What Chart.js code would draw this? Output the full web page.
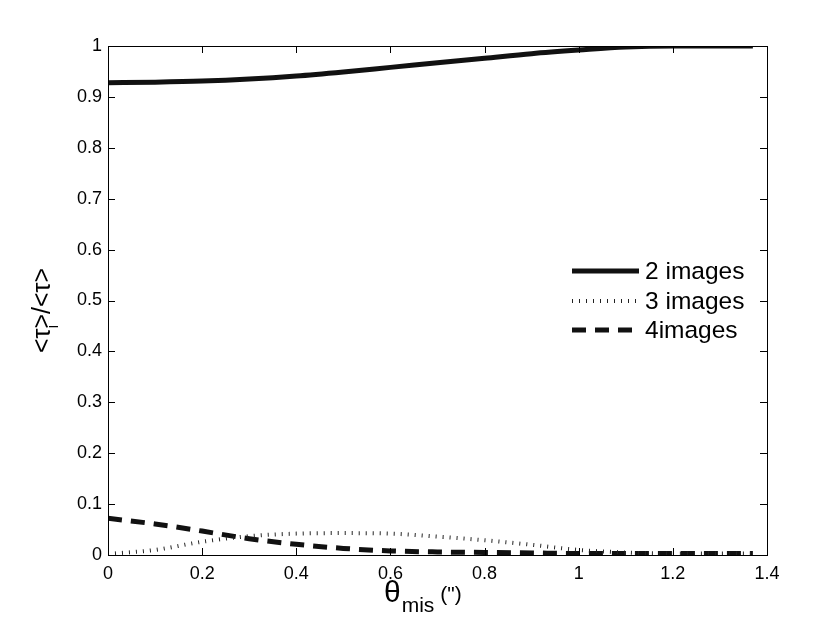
<!DOCTYPE html>
<html>
<head>
<meta charset="utf-8">
<script src="https://cdn.jsdelivr.net/npm/chart.js@4"></script>
<style>
  html, body { margin: 0; padding: 0; background: #fff; }
  #wrap { width: 830px; height: 625px; }
</style>
</head>
<body>
<div id="wrap"><canvas id="chart" width="830" height="625"></canvas></div>
<script>
// misalignment angle (arcsec) and fraction of optical depth per image multiplicity
const theta = [0, 0.1, 0.2, 0.3, 0.4, 0.5, 0.6, 0.7, 0.8, 0.9, 1.0, 1.1, 1.2, 1.3, 1.37];
const twoImages = [0.928, 0.929, 0.931, 0.935, 0.941, 0.949, 0.958, 0.967, 0.976, 0.985, 0.992, 0.998, 1.0, 1.0, 1.0];
const threeImages = [0.002, 0.010, 0.026, 0.037, 0.042, 0.043, 0.042, 0.036, 0.029, 0.020, 0.010, 0.005, 0.003, 0.003, 0.003];
const fourImages = [0.072, 0.061, 0.047, 0.032, 0.021, 0.013, 0.008, 0.006, 0.005, 0.004, 0.003, 0.003, 0.003, 0.003, 0.003];
const xTicks = [0, 0.2, 0.4, 0.6, 0.8, 1, 1.2, 1.4];
const yTicks = [0, 0.1, 0.2, 0.3, 0.4, 0.5, 0.6, 0.7, 0.8, 0.9, 1];
const seriesNames = ['2 images', '3 images', '4images'];

const pts = arr => arr.map((v, i) => ({ x: theta[i], y: v }));
const FONT = 'Liberation Sans, Arial, sans-serif';

// inward ticks, frame, axis titles and legend in matlab style
const matlabBits = {
  id: 'matlabBits',
  afterDraw(chart) {
    const { ctx, chartArea: a, scales } = chart;
    ctx.save();
    ctx.strokeStyle = '#000';
    ctx.lineWidth = 1;
    ctx.strokeRect(a.left + 0.5, a.top + 0.5, a.right - a.left, a.bottom - a.top);
    ctx.beginPath();
    xTicks.forEach(v => {
      const x = Math.round(scales.x.getPixelForValue(v)) + 0.5;
      ctx.moveTo(x, a.bottom); ctx.lineTo(x, a.bottom - 7);
      ctx.moveTo(x, a.top); ctx.lineTo(x, a.top + 7);
    });
    yTicks.forEach(v => {
      const y = Math.round(scales.y.getPixelForValue(v)) + 0.5;
      ctx.moveTo(a.left, y); ctx.lineTo(a.left + 7, y);
      ctx.moveTo(a.right, y); ctx.lineTo(a.right - 7, y);
    });
    ctx.stroke();

    // x title: theta_mis (")
    ctx.fillStyle = '#000';
    ctx.textBaseline = 'alphabetic';
    ctx.textAlign = 'left';
    let x = 384;
    ctx.font = '30px ' + FONT;
    ctx.fillText('θ', x, 602);
    x += ctx.measureText('θ').width + 1;
    ctx.font = '21px ' + FONT;
    ctx.fillText('mis', x, 612);
    x += ctx.measureText('mis').width + 6;
    ctx.font = '21px ' + FONT;
    ctx.fillText('(")', x, 601);

    // y title: <tau_i>/<tau>
    ctx.translate(50, 353);
    ctx.rotate(-Math.PI / 2);
    let yx = 0;
    ctx.font = '25px ' + FONT;
    ctx.fillText('<τ', yx, 0);
    yx += ctx.measureText('<τ').width;
    ctx.font = '17px ' + FONT;
    ctx.fillText('i', yx, 8);
    ctx.font = '25px ' + FONT;
    ctx.fillText('>/<τ>', yx, 0);
    ctx.setTransform(1, 0, 0, 1, 0, 0);

    // legend inside plot
    const rows = [271, 301, 330];
    chart.data.datasets.forEach((ds, i) => {
      ctx.beginPath();
      ctx.strokeStyle = ds.borderColor;
      ctx.lineWidth = ds.borderWidth;
      ctx.setLineDash(ds.borderDash || []);
      ctx.moveTo(572, rows[i]);
      ctx.lineTo(639, rows[i]);
      ctx.stroke();
      ctx.setLineDash([]);
      ctx.font = '24.5px ' + FONT;
      ctx.textBaseline = 'middle';
      ctx.fillStyle = '#000';
      ctx.fillText(seriesNames[i], 645, rows[i] + 1);
    });
    ctx.restore();
  }
};

new Chart(document.getElementById('chart'), {
  type: 'line',
  data: {
    datasets: [
      { label: seriesNames[0], data: pts(twoImages), borderColor: '#111', borderWidth: 5, pointRadius: 0, cubicInterpolationMode: 'monotone' },
      { label: seriesNames[1], data: pts(threeImages), borderColor: '#222', borderWidth: 4, borderDash: [1, 6], pointRadius: 0, cubicInterpolationMode: 'monotone' },
      { label: seriesNames[2], data: pts(fourImages), borderColor: '#111', borderWidth: 5, borderDash: [14, 9], pointRadius: 0, cubicInterpolationMode: 'monotone' }
    ]
  },
  options: {
    responsive: false,
    animation: false,
    layout: { padding: { left: 0, right: 63, top: 46, bottom: 0 } },
    plugins: { legend: { display: false }, tooltip: { enabled: false } },
    scales: {
      x: {
        type: 'linear', min: 0, max: 1.4,
        afterBuildTicks: s => { s.ticks = xTicks.map(v => ({ value: v })); },
        afterFit: s => { s.height = 70; },
        grid: { display: false, drawTicks: false },
        border: { display: false },
        ticks: { color: '#000', padding: 8, font: { family: FONT, size: 18 }, callback: v => String(v), maxRotation: 0 }
      },
      y: {
        min: 0, max: 1,
        afterBuildTicks: s => { s.ticks = yTicks.map(v => ({ value: v })); },
        afterFit: s => { s.width = 108; },
        grid: { display: false, drawTicks: false },
        border: { display: false },
        ticks: { color: '#000', padding: 6, font: { family: FONT, size: 18 }, callback: v => String(v) }
      }
    }
  },
  plugins: [matlabBits]
});
</script>
</body>
</html>
